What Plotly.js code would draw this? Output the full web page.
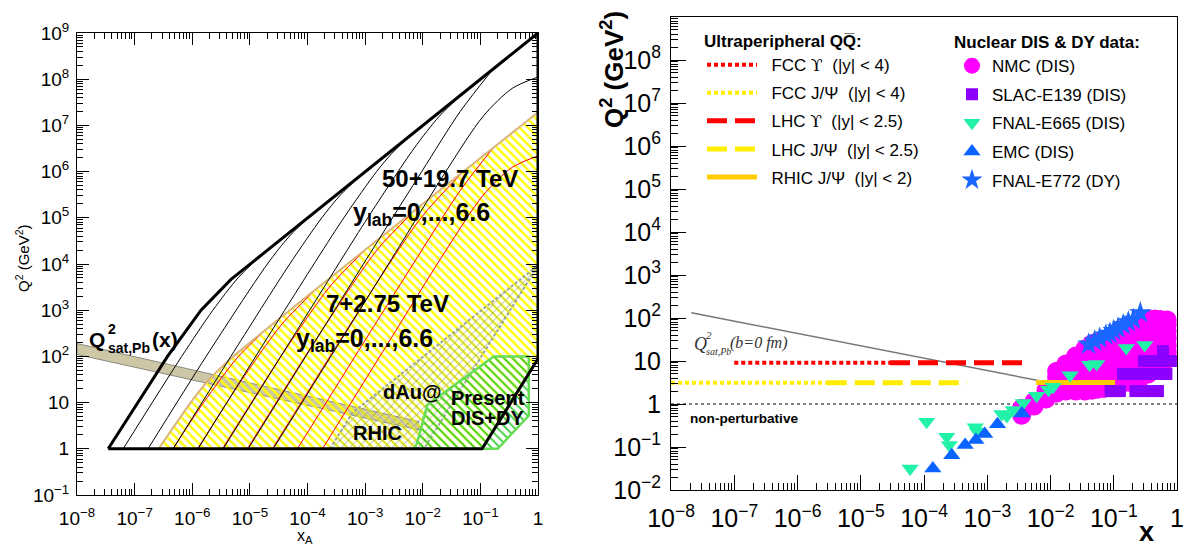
<!DOCTYPE html>
<html><head><meta charset="utf-8">
<script src="https://cdn.plot.ly/plotly-3.0.1.min.js"></script>
<style>html,body{margin:0;padding:0;background:#fff}#chart{width:1189px;height:547px}</style>
</head><body><div id="chart"></div>
<script>
const W = 1189, H = 547;
const F = 'Liberation Sans, Arial, Helvetica, sans-serif';
const FS = 'Liberation Serif, Times New Roman, serif';

// ================= LEFT PANEL DATA =================
// FCC (50+19.7 TeV) kinematic boundary (thick black)
const fccBoundary_x  = [3.48e-8, 3.72e-7, 1.42e-6, 4.70e-6, 1, 1, 0.107, 3.48e-8];
const fccBoundary_q2 = [1, 100, 1000, 4630, 1e9, 89, 1, 1];
// FCC y_lab curves (thin black), y_lab = 6,5,4,3,2,1,0
const fccCurves_x = [
  [6.32e-8, 6.56e-7, 2.28e-6, 6.24e-6, 1.56e-5],
  [1.71e-7, 1.74e-6, 2.01e-5, 4.84e-5, 1.15e-4],
  [4.66e-7, 4.68e-6, 4.92e-5, 1.77e-4, 3.77e-4, 8.51e-4],
  [1.26e-6, 4.02e-5, 4.27e-4, 1.58e-3, 2.94e-3, 6.30e-3],
  [3.44e-6, 1.09e-4, 1.11e-3, 7.03e-3, 0.0194, 0.0466],
  [9.33e-6, 9.35e-4, 9.59e-3, 0.0447, 0.166],
  [2.54e-5, 2.54e-3, 0.0251, 0.112, 0.355, 1]
];
const fccCurves_q2 = [
  [1, 100, 1000, 5010, 1.54e4],
  [1, 100, 1e4, 3.98e4, 1.14e5],
  [1, 100, 1e4, 1e5, 3.16e5, 8.39e5],
  [1, 1e3, 1e5, 1e6, 2.51e6, 6.21e6],
  [1, 1e3, 1e5, 3.16e6, 1.58e7, 4.58e7],
  [1, 1e4, 1e6, 2.0e7, 1.66e8],
  [1, 1e4, 1e6, 1.58e7, 6.31e7, 1.12e8]
];
// LHC (7+2.75 TeV) region (yellow hatch) and its envelope (tan)
const lhcRegion_x  = [2.61e-7, 9.38e-7, 1.97e-6, 4.70e-6, 1, 1, 0.107, 2.61e-7];
const lhcRegion_q2 = [1, 10, 31.6, 90.6, 1.92e7, 89, 1, 1];
const lhcEnvelope_x  = [2.61e-7, 9.38e-7, 1.97e-6, 4.70e-6, 1];
const lhcEnvelope_q2 = [1, 10, 31.6, 90.6, 1.92e7];
// LHC y_lab curves (red), y_lab = 6..0
const lhcCurves_x = [
  [4.63e-7, 1.57e-6, 6.32e-6, 1.56e-5],
  [1.24e-6, 7.31e-6, 3.60e-5, 1.15e-4],
  [3.34e-6, 3.46e-5, 2.40e-4, 8.51e-4],
  [9.04e-6, 1.65e-4, 1.60e-3, 6.30e-3],
  [2.46e-5, 7.91e-4, 9.33e-3, 0.0466],
  [6.68e-5, 9.33e-4, 9.55e-3, 0.0447, 0.166],
  [1.82e-4, 2.51e-3, 0.0251, 0.112, 0.355, 1]
];
const lhcCurves_q2 = [
  [1, 10, 100, 301],
  [1, 31.6, 501, 2220],
  [1, 100, 3160, 1.64e4],
  [1, 316, 2.0e4, 1.21e5],
  [1, 1000, 1e5, 8.95e5],
  [1, 195, 1.95e4, 3.89e5, 3.24e6],
  [1, 195, 1.95e4, 3.09e5, 1.23e6, 2.19e6]
];
// Saturation band Q2_sat,Pb(x)
const satBand_x  = [1e-8, 8.51e-3, 8.51e-3, 1e-8, 1e-8];
const satBand_q2 = [190, 3.89, 2.57, 110, 190];
// dAu@RHIC region (grey cross hatch)
const rhic_x  = [2.45e-4, 6.03e-4, 1, 0.0105, 2.45e-4];
const rhic_q2 = [1, 6.03, 9330, 1, 1];
// Present DIS+DY region (green hatch)
const dis_x  = [7.08e-3, 7.94e-3, 0.0120, 0.170, 0.692, 0.692, 0.200, 7.08e-3];
const dis_q2 = [1, 1.32, 8.91, 100, 100, 5.25, 1, 1];

// ================= RIGHT PANEL DATA =================
const satLine_x = [2.1e-8, 9.3e-3];
const satLine_q2 = [132, 3.16];
const npLine_x = [1e-8, 1];
const npLine_q2 = [1, 1];
const UPS = '<span style="font-family:DejaVu Serif">\u03D2</span>';
const upcNames = ['\u00a0\u00a0FCC ' + UPS + '  (|y| < 4)', '\u00a0\u00a0FCC J/\u03A8  (|y| < 4)', '\u00a0\u00a0LHC ' + UPS + '  (|y| < 2.5)', '\u00a0\u00a0LHC J/\u03A8  (|y| < 2.5)', '\u00a0\u00a0RHIC J/\u03A8  (|y| < 2)'];
const upc_x = [[1e-7, 2.9e-5], [1e-8, 2.9e-6], [2.9e-5, 4.0e-3], [2.9e-6, 4.8e-4], [5.9e-3, 0.105]];
const upc_q2 = [[9.1, 9.1], [3.1, 3.1], [9.1, 9.1], [3.1, 3.1], [3.15, 3.15]];

const nmc_x = [
  0.0035,0.0035,
  0.0055,0.0055,
  0.0085,0.0085,0.0085,
  0.0125,0.0125,0.0125,0.0125,0.0125,
  0.0175,0.0175,0.0175,0.0175,0.0175,0.0175,
  0.025,0.025,0.025,0.025,0.025,0.025,0.025,
  0.035,0.035,0.035,0.035,0.035,0.035,0.035,0.035,
  0.045,0.045,0.045,0.045,0.045,0.045,0.045,0.045,
  0.055,0.055,0.055,0.055,0.055,0.055,0.055,0.055,
  0.07,0.07,0.07,0.07,0.07,0.07,0.07,0.07,
  0.09,0.09,0.09,0.09,0.09,0.09,0.09,0.09,
  0.125,0.125,0.125,0.125,0.125,0.125,0.125,0.125,0.125,
  0.175,0.175,0.175,0.175,0.175,0.175,0.175,0.175,0.175,
  0.25,0.25,0.25,0.25,0.25,0.25,0.25,0.25,0.25,
  0.35,0.35,0.35,0.35,0.35,0.35,0.35,0.35,0.35,
  0.45,0.45,0.45,0.45,0.45,0.45,0.45,0.45,
  0.55,0.55,0.55,0.55,0.55,0.55,0.55,
  0.7,0.7,0.7,0.7,0.7,0.7,0.7
];
const nmc_q2 = [
  0.55,0.8,
  0.9,1.15,
  1.3,1.7,2.1,
  1.8,2.4,3.2,4.3,5.8,
  2.0,2.7,3.6,4.8,6.4,8.5,
  2.0,2.8,3.8,5.2,7.1,9.7,13,
  2.0,2.8,3.9,5.4,7.5,10.5,14.5,19,
  2.1,3.0,4.3,6.1,8.7,12.4,17.7,25,
  2.2,3.2,4.6,6.6,9.5,13.6,19.5,28,
  2.3,3.3,4.8,7.0,10.2,14.8,21.5,31,
  2.4,3.5,5.1,7.5,11,16,24,35,
  2.8,4.1,6.0,8.8,13,19,28,41,52,
  3.2,4.6,6.7,9.8,14.3,21,30,44,62,
  3.6,5.3,7.7,11.3,16.5,24,35,52,74,
  5,7.3,10.7,15.6,23,33,49,72,95,
  7,10,15,22,32,47,68,95,
  9,13,19,28,41,60,92,
  11,16,23,34,50,70,90
];
const slac_x  = [0.089,0.1,0.125,0.22,0.3,0.4,0.5, 0.14,0.175,0.25,0.35,0.45,0.55,0.68, 0.3,0.4,0.5,0.6,0.8, 0.6];
const slac_q2 = [2,2,2,2,2,2,2, 5,5,5,5,5,5,5, 10,10,10,10,10, 17];
const e665_x  = [6.03e-5,1.10e-4,2.29e-4,2.51e-4,6.46e-4,6.92e-4,1.70e-3,2.04e-3,2.57e-3,3.72e-3,6.03e-3,9.33e-3,0.011,0.0204,0.0417,0.0537,0.158,0.309];
const e665_q2 = [0.0316,0.389,0.174,0.112,0.288,0.229,0.589,0.525,0.724,1.05,1.55,2.14,2.51,4.68,8.13,8.51,20,23.4];
const emc_x  = [1.38e-4,2.75e-4,4.47e-4,6.61e-4,9.12e-4,1.45e-3,3.55e-3];
const emc_q2 = [0.0316,0.0646,0.112,0.145,0.20,0.339,0.603];
const e772_x  = [0.040,0.050,0.060,0.075,0.087,0.10,0.117,0.141,0.170,0.204,0.263];
const e772_q2 = [24.5,29,34,40,44,51,58,69,81,93,132];

// ================= TICKS =================
const xTickVals = [1e-8,1e-7,1e-6,1e-5,1e-4,1e-3,1e-2,1e-1,1];
const xTickText = ['10<sup>\u22128</sup>','10<sup>\u22127</sup>','10<sup>\u22126</sup>','10<sup>\u22125</sup>','10<sup>\u22124</sup>','10<sup>\u22123</sup>','10<sup>\u22122</sup>','10<sup>\u22121</sup>','1'];
const yLeftTickVals = [1e-1,1,10,1e2,1e3,1e4,1e5,1e6,1e7,1e8,1e9];
const yLeftTickText = ['10<sup>\u22121</sup>','1','10','10<sup>2</sup>','10<sup>3</sup>','10<sup>4</sup>','10<sup>5</sup>','10<sup>6</sup>','10<sup>7</sup>','10<sup>8</sup>','10<sup>9</sup>'];
const yRightTickVals = [1e-2].concat(yLeftTickVals);
const yRightTickText = ['10<sup>\u22122</sup>'].concat(yLeftTickText);

function minorVals(lo, hi) {
  const v = [];
  for (let k = lo; k < hi; k++) for (let m = 2; m <= 9; m++) v.push(m * Math.pow(10, k));
  return v;
}

function logAxis(domain, range, anchor, tv, tt, size, majorLen, minorLen, mirror, standoff) {
  return {
    domain: domain, type: 'log', range: range, anchor: anchor,
    tickmode: 'array', tickvals: tv, ticktext: tt,
    ticks: 'inside', ticklen: majorLen, tickwidth: 1, tickcolor: '#000',
    showline: true, linecolor: '#000', linewidth: 1, mirror: mirror,
    showgrid: false, zeroline: false,
    tickfont: {family: F, size: size, color: '#000'},
    ticklabelstandoff: standoff,
    minor: {tickmode: 'array', tickvals: minorVals(range[0], range[1]), ticks: 'inside', ticklen: minorLen, tickwidth: 1, tickcolor: '#000', showgrid: false}
  };
}

const traces = [];
// ---- left panel ----
traces.push({x: satBand_x, y: satBand_q2, xaxis: 'x', yaxis: 'y', mode: 'lines', fill: 'toself',
  fillcolor: '#cdc7a6', line: {color: '#8a8a80', width: 1}, showlegend: false, hoverinfo: 'skip'});
traces.push({x: lhcRegion_x, y: lhcRegion_q2, xaxis: 'x', yaxis: 'y', mode: 'lines', fill: 'toself',
  fillcolor: 'rgba(0,0,0,0)', line: {width: 0},
  fillpattern: {shape: '\\', fgcolor: '#ffff00', bgcolor: 'rgba(0,0,0,0)', size: 6, solidity: 0.4},
  showlegend: false, hoverinfo: 'skip'});
traces.push({x: rhic_x, y: rhic_q2, xaxis: 'x', yaxis: 'y', mode: 'lines', fill: 'toself',
  fillcolor: 'rgba(0,0,0,0)', line: {color: '#9aa59a', width: 2, dash: '3px,2px'},
  fillpattern: {shape: 'x', fgcolor: '#8f9a8f', bgcolor: 'rgba(0,0,0,0)', size: 6, solidity: 0.22},
  showlegend: false, hoverinfo: 'skip'});
traces.push({x: dis_x, y: dis_q2, xaxis: 'x', yaxis: 'y', mode: 'lines', fill: 'toself',
  fillcolor: 'rgba(0,0,0,0)', line: {color: '#66dd55', width: 2.5},
  fillpattern: {shape: '\\', fgcolor: '#33cc33', bgcolor: 'rgba(0,0,0,0)', size: 6, solidity: 0.3},
  showlegend: false, hoverinfo: 'skip'});
for (let i = 0; i < lhcCurves_x.length; i++) {
  traces.push({x: lhcCurves_x[i], y: lhcCurves_q2[i], xaxis: 'x', yaxis: 'y', mode: 'lines',
    line: {color: '#ff0000', width: 1, shape: 'spline', smoothing: 0.8}, showlegend: false, hoverinfo: 'skip'});
}
traces.push({x: lhcEnvelope_x, y: lhcEnvelope_q2, xaxis: 'x', yaxis: 'y', mode: 'lines',
  line: {color: '#dcb47a', width: 2, shape: 'spline', smoothing: 0.6}, showlegend: false, hoverinfo: 'skip'});
for (let i = 0; i < fccCurves_x.length; i++) {
  traces.push({x: fccCurves_x[i], y: fccCurves_q2[i], xaxis: 'x', yaxis: 'y', mode: 'lines',
    line: {color: '#000', width: 1, shape: 'spline', smoothing: 0.8}, showlegend: false, hoverinfo: 'skip'});
}
traces.push({x: fccBoundary_x, y: fccBoundary_q2, xaxis: 'x', yaxis: 'y', mode: 'lines',
  line: {color: '#000', width: 3}, showlegend: false, hoverinfo: 'skip'});

// ---- right panel ----
traces.push({x: npLine_x, y: npLine_q2, xaxis: 'x2', yaxis: 'y2', mode: 'lines',
  line: {color: '#000', width: 1, dash: '3px,3px'}, showlegend: false, hoverinfo: 'skip'});
traces.push({x: satLine_x, y: satLine_q2, xaxis: 'x2', yaxis: 'y2', mode: 'lines',
  line: {color: '#777', width: 1.5}, showlegend: false, hoverinfo: 'skip'});

const mkData = (name, x, y, sym, color, size) => ({
  name: name, x: x, y: y, xaxis: 'x2', yaxis: 'y2', mode: 'markers', legend: 'legend2',
  legendgroup: name, marker: {symbol: sym, color: color, size: size, line: {width: 0}}, hoverinfo: 'skip'});
traces.push(mkData('NMC (DIS)', nmc_x, nmc_q2, 'circle', '#ff00ff', 19));
traces.push(mkData('SLAC-E139 (DIS)', slac_x, slac_q2, 'square', '#8c00ff', 12));

const upcStyles = [
  {color: '#ff0000', width: 4, dash: '4px,3px'},
  {color: '#ffee00', width: 4, dash: '4px,3px'},
  {color: '#ff0000', width: 5, dash: '20px,8px'},
  {color: '#ffee00', width: 5, dash: '20px,8px'},
  {color: '#ffcc00', width: 5}
];
for (let i = 0; i < upcNames.length; i++) {
  traces.push({name: upcNames[i], x: upc_x[i], y: upc_q2[i], xaxis: 'x2', yaxis: 'y2', mode: 'lines',
    legend: 'legend', legendgroup: 'u' + i, line: upcStyles[i], hoverinfo: 'skip'});
}
traces.push(mkData('FNAL-E665 (DIS)', e665_x, e665_q2, 'triangle-down', '#22f2a8', 15));
traces.push(mkData('EMC (DIS)', emc_x, emc_q2, 'triangle-up', '#0a64ff', 15));
traces.push(mkData('FNAL-E772 (DY)', e772_x, e772_q2, 'star', '#1a66ff', 17));

function ann(text, px, py, size, o) {
  o = o || {};
  return Object.assign({text: text, x: px / W, y: 1 - py / H, xref: 'paper', yref: 'paper',
    xanchor: 'left', yanchor: 'middle', showarrow: false,
    font: {family: F, size: size, color: '#000'}}, o);
}

const annotations = [
  ann('<b>50+19.7 TeV</b>', 380, 178, 24),
  ann('<b>y<sub>lab</sub>=0,...,6.6</b>', 351, 214, 25),
  ann('<b>7+2.75 TeV</b>', 324, 303, 24),
  ann('<b>y<sub>lab</sub>=0,...,6.6</b>', 294, 340, 25),
  ann('<b>Q</b>', 87, 339, 21),
  ann('<b>2</b>', 106, 329, 14),
  ann('<b>sat,Pb</b>', 106, 348, 14),
  ann('<b>(x)</b>', 150, 339, 21),
  ann('<b>dAu@</b>', 381, 392, 20),
  ann('<b>RHIC</b>', 351, 433, 20),
  ann('<b>Present</b>', 449, 398, 20),
  ann('<b>DIS+DY</b>', 449, 418, 20),
  ann('Q<sup>2</sup> (GeV<sup>2</sup>)', 22, 258, 15, {xanchor: 'center', textangle: -90}),
  ann('x<sub>A</sub>', 305, 536, 16, {xanchor: 'center'}),
  // right panel
  ann('<b>Q<sup>2</sup> (GeV<sup>2</sup>)</b>', 612, 70, 26, {xanchor: 'center', textangle: -90}),
  ann('<b>x</b>', 1146, 532, 27, {xanchor: 'center'}),
  ann('<b>non-perturbative</b>', 688, 418, 13.6),
  ann('<i>Q</i>', 692, 344, 18, {font: {family: FS, size: 18, color: '#333'}}),
  ann('<i>2</i>', 704, 335, 11, {font: {family: FS, size: 11, color: '#333'}}),
  ann('<i>sat,Pb</i>', 704, 351, 10, {font: {family: FS, size: 10, color: '#333'}}),
  ann('<i>(b=0 fm)</i>', 728, 343, 16, {font: {family: FS, size: 16, color: '#333'}})
];

const layout = {
  width: W, height: H, margin: {l: 0, r: 0, t: 0, b: 0},
  paper_bgcolor: '#fff', plot_bgcolor: '#fff',
  font: {family: F, color: '#000'},
  xaxis: logAxis([77 / W, 538 / W], [-8, 0], 'y', xTickVals, xTickText, 19, 12, 6, 'allticks', 6),
  yaxis: logAxis([1 - 495 / H, 1 - 33 / H], [-1, 9], 'x', yLeftTickVals, yLeftTickText, 19, 12, 6, 'allticks', 3),
  xaxis2: logAxis([671 / W, 1177 / W], [-8, 0], 'y2', xTickVals, xTickText, 25, 15, 7, true, 6),
  yaxis2: logAxis([1 - 490 / H, 1 - 17 / H], [-2, 9], 'x2', yRightTickVals, yRightTickText, 25, 15, 7, true, 4),
  showlegend: true,
  legend: {x: 702 / W, y: 1 - 25 / H, xanchor: 'left', yanchor: 'top', bgcolor: 'rgba(0,0,0,0)',
    font: {family: F, size: 17, color: '#000'}, tracegroupgap: 3, itemwidth: 50,
    title: {text: '<b>Ultraperipheral QQ\u0305:</b>', font: {family: F, size: 17, color: '#000'}}},
  legend2: {x: 952 / W, y: 1 - 26 / H, xanchor: 'left', yanchor: 'top', bgcolor: 'rgba(0,0,0,0)',
    font: {family: F, size: 17, color: '#000'}, tracegroupgap: 3.5, itemwidth: 30, itemsizing: 'trace',
    title: {text: '<b>Nuclear DIS & DY data:</b>', font: {family: F, size: 17, color: '#000'}}},
  annotations: annotations
};

Plotly.newPlot('chart', traces, layout, {staticPlot: true, displayModeBar: false});
</script></body></html>
